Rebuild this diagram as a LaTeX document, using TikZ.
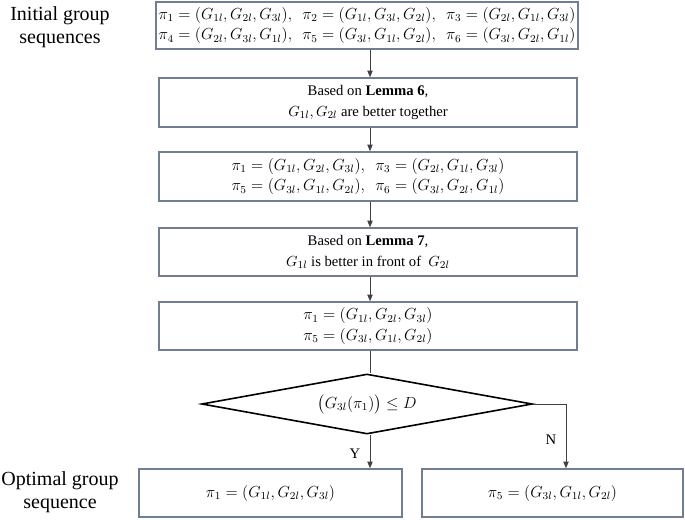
\documentclass[tikz,border=0pt]{standalone}
\usepackage{fontspec}
\setmainfont{Liberation Serif}
\usepackage{amsmath}
\usetikzlibrary{shapes.geometric,arrows.meta}

\definecolor{boxline}{RGB}{112,126,146}
\definecolor{arrline}{RGB}{64,64,64}

\begin{document}
\begin{tikzpicture}[x=0.75pt,y=0.75pt,yscale=-1,xscale=1,
    seqbox/.style={draw=boxline, line width=1.1pt, inner sep=0pt, align=center,
      font=\fontsize{11.5}{15.5}\selectfont},
    decbox/.style={draw=black, line width=1.2pt, shape=diamond, inner sep=0pt,
      shape aspect=5.5, minimum width=248pt, minimum height=45pt, font=\fontsize{11.5}{14}\selectfont},
    sidetext/.style={align=center, inner sep=0pt, font=\fontsize{15}{17}\selectfont},
    yntext/.style={inner sep=0pt, font=\fontsize{11}{13}\selectfont},
    flowarr/.style={draw=arrline, line width=0.6pt, -{Triangle[length=5pt,width=4pt]}}]
            \useasboundingbox (0,0) rectangle (685,519);
            % column of the connectors
            \coordinate (axis) at (370,0) ;
            \coordinate (nbranch) at (566,0) ;

            % Side labels
            \node [sidetext] (initlbl) at (60,27) {Initial group\\sequences};
            \node [sidetext] (optlbl) at (60,492) {Optimal group\\sequence};

            % Box: all sequences
            \node [seqbox, minimum width=316.5pt, minimum height=35.25pt] (allseq) at (367,25.5)
              {$\pi_1 = (G_{1l}, G_{2l}, G_{3l}),\ \ \pi_2 = (G_{1l}, G_{3l}, G_{2l}),\ \ \pi_3 = (G_{2l}, G_{1l}, G_{3l})$\\
               $\pi_4 = (G_{2l}, G_{3l}, G_{1l}),\ \ \pi_5 = (G_{3l}, G_{1l}, G_{2l}),\ \ \pi_6 = (G_{3l}, G_{2l}, G_{1l})$};
            % Box: lemma 6
            \node [seqbox, minimum width=313.5pt, minimum height=36.75pt, font=\fontsize{11}{15.5}\selectfont] (lemsix) at (368,102.5)
              {Based on \textbf{Lemma 6},\\ $G_{1l}, G_{2l}$ are better together};
            % Box: four sequences
            \node [seqbox, minimum width=313.5pt, minimum height=36.75pt] (fourseq) at (368,176.5)
              {$\pi_1 = (G_{1l}, G_{2l}, G_{3l}),\ \ \pi_3 = (G_{2l}, G_{1l}, G_{3l})$\\
               $\pi_5 = (G_{3l}, G_{1l}, G_{2l}),\ \ \pi_6 = (G_{3l}, G_{2l}, G_{1l})$};
            % Box: lemma 7
            \node [seqbox, minimum width=313.5pt, minimum height=36pt, font=\fontsize{11}{15.5}\selectfont] (lemseven) at (368,252)
              {Based on \textbf{Lemma 7},\\ $G_{1l}$ is better in front of\ \ $G_{2l}$};
            % Box: two sequences
            \node [seqbox, minimum width=313.5pt, minimum height=36pt] (twoseq) at (368,326)
              {$\pi_1 = (G_{1l}, G_{2l}, G_{3l})$\\ $\pi_5 = (G_{3l}, G_{1l}, G_{2l})$};
            % Decision
            \node [decbox] (check) at (367,404) {$\bigl(G_{3l}(\pi_1)\bigr) \leq D$};
            % Results
            \node [seqbox, minimum width=197.25pt, minimum height=36pt] (optone) at (270.5,493)
              {$\pi_1 = (G_{1l}, G_{2l}, G_{3l})$};
            \node [seqbox, minimum width=195.75pt, minimum height=36pt] (optfive) at (552.5,493)
              {$\pi_5 = (G_{3l}, G_{1l}, G_{2l})$};

            % Connectors
            \draw [flowarr] (allseq.south -| axis) -- (lemsix.north -| axis) ;
            \draw [flowarr] (lemsix.south -| axis) -- (fourseq.north -| axis) ;
            \draw [flowarr] (fourseq.south -| axis) -- (lemseven.north -| axis) ;
            \draw [flowarr] (lemseven.south -| axis) -- (twoseq.north -| axis) ;
            \draw [draw=arrline, line width=0.6pt] (twoseq.south -| axis) -- (check.north -| axis) ;
            \draw [flowarr] (check.south -| axis) -- node [yntext, pos=0.55, left=7pt] (yes) {Y} (optone.north -| axis) ;
            \draw [flowarr] (check.east) -- (check.east -| nbranch) -- node [yntext, pos=0.55, left=7pt] (no) {N} (optfive.north -| nbranch) ;
\end{tikzpicture}
\end{document}
